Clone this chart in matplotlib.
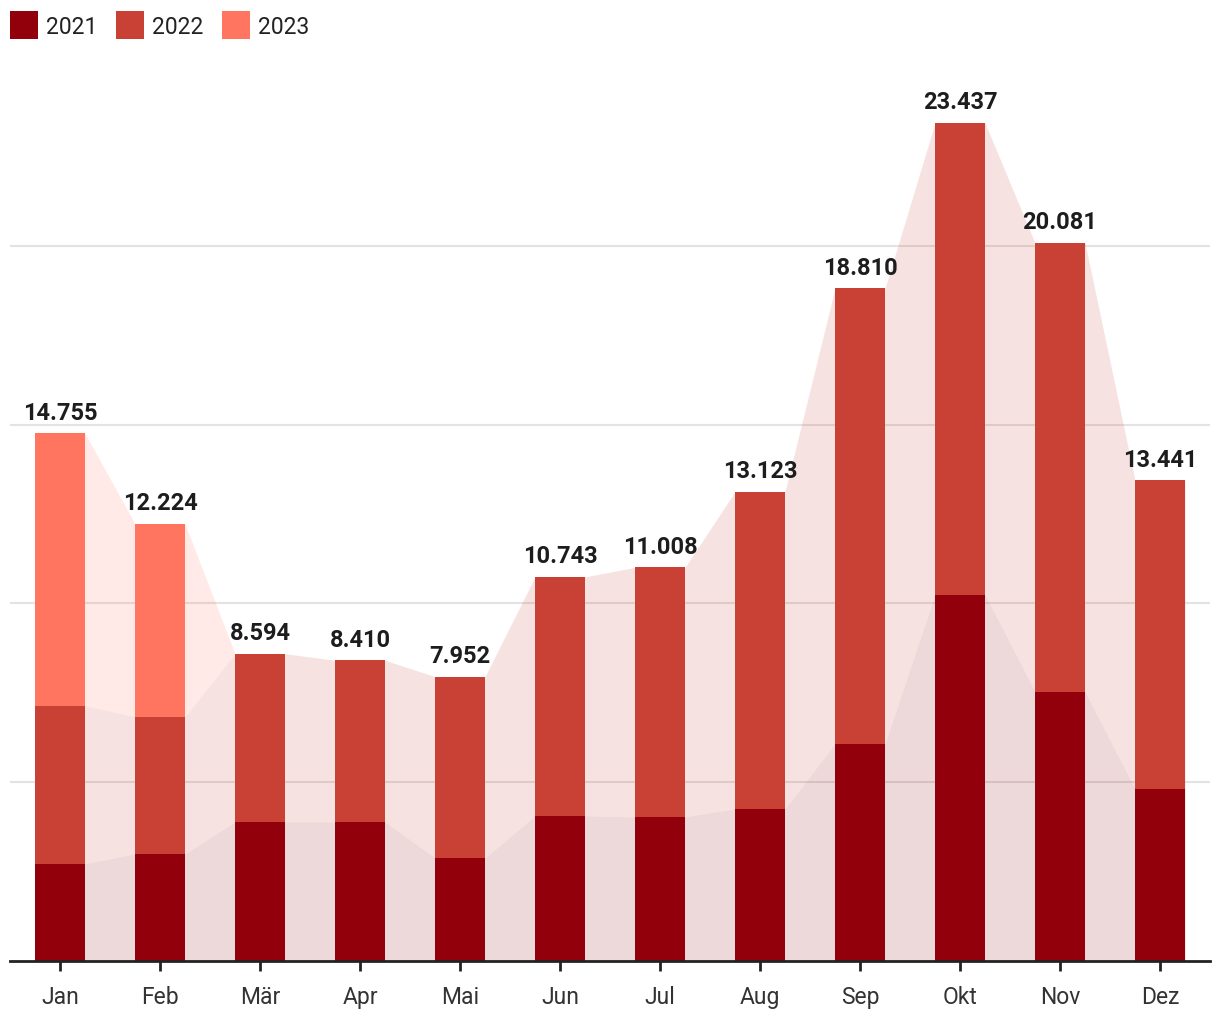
import matplotlib.pyplot as plt
from matplotlib.patches import Rectangle
import numpy as np

plt.rcParams['font.family'] = ['Roboto', 'DejaVu Sans']

months = ["Jan", "Feb", "Mär", "Apr", "Mai", "Jun", "Jul", "Aug", "Sep", "Okt", "Nov", "Dez"]
years = ["2021", "2022", "2023"]
totals = [14755, 12224, 8594, 8410, 7952, 10743, 11008, 13123, 18810, 23437, 20081, 13441]
v2021 = [2716, 2996, 3891, 3891, 2884, 4059, 4031, 4255, 6075, 10246, 7531, 4815]
v2022 = [4423, 3835, 4703, 4519, 5068, 6684, 6977, 8868, 12735, 13191, 12550, 8626]
v2023 = [t - a - b for t, a, b in zip(totals, v2021, v2022)]
colors = ["#92000b", "#c94134", "#ff7560"]

W, H = 1220, 1020
fig = plt.figure(figsize=(W / 100, H / 100), dpi=100)

# axes placed by pixels: baseline at y=962, x from 10 to 1210
px_per_unit = 178.8 / 5000
ytop = 24000
ax_h = ytop * px_per_unit
ax = fig.add_axes([10 / W, (H - 962) / H, 1200 / W, ax_h / H])

x = np.arange(len(months))
w = 0.5
layers = [np.array(v2021), np.array(v2022), np.array(v2023)]

# connecting areas between bars
xe = np.ravel(np.column_stack([x - w / 2, x + w / 2]))
bottom = np.zeros(len(months))
for vals, c in zip(layers, colors):
    top = bottom + vals
    ax.fill_between(xe, np.repeat(bottom, 2), np.repeat(top, 2), color=c, alpha=0.15, lw=0, zorder=1)
    bottom = top

bottom = np.zeros(len(months))
for vals, c in zip(layers, colors):
    ax.bar(x, vals, w, bottom=bottom, color=c, zorder=2, linewidth=0)
    bottom = bottom + vals

for i, t in enumerate(totals):
    ax.annotate(f"{t:,}".replace(",", "."), (i, t), xytext=(0, 7), textcoords="offset points",
                ha="center", va="bottom", fontsize=17, fontweight="bold", color="#1d1d1d")

ax.set_xlim(-0.5, 11.5)
ax.set_ylim(0, ytop)
ax.set_yticks([5000, 10000, 15000, 20000])
ax.yaxis.grid(True, color="#e3e3e3", lw=1.5, zorder=0)
ax.set_axisbelow(True)
ax.tick_params(axis="y", left=False, labelleft=False)
ax.set_xticks(x)
ax.set_xticklabels(months)
ax.tick_params(axis="x", length=7, width=2, color="#222222", labelsize=16.5, labelcolor="#333333", pad=10)
for s in ["top", "right", "left"]:
    ax.spines[s].set_visible(False)
ax.spines["bottom"].set_color("#222222")
ax.spines["bottom"].set_linewidth(2)
ax.spines["bottom"].set_zorder(3)

# legend
for (sx, tx), lab, c in zip([(10, 46), (116, 152), (222, 258)], years, colors):
    fig.add_artist(Rectangle((sx / W, (H - 40) / H), 28 / W, 28 / H, transform=fig.transFigure,
                             color=c, lw=0))
    fig.text(tx / W, (H - 34) / H, lab, fontsize=16.5, color="#222222", va="baseline", ha="left")

fig.savefig("out.png", dpi=100)
